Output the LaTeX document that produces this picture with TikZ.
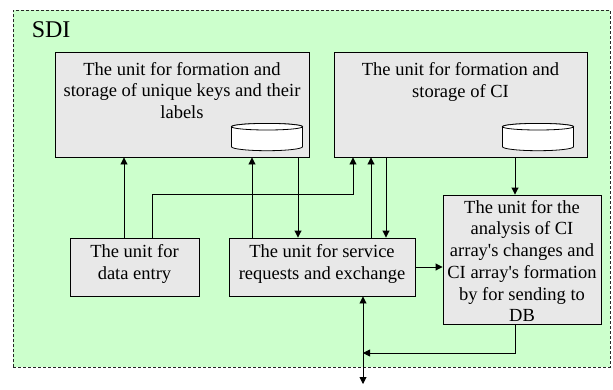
\documentclass[tikz,border=0pt]{standalone}
\usepackage{fontspec}
\setmainfont{Liberation Serif}
\newfontfamily\tnr{Liberation Serif}
\usetikzlibrary{arrows.meta,calc}
\definecolor{sdigreen}{RGB}{204,255,204}
\definecolor{boxgray}{RGB}{232,232,232}
\begin{document}
\begin{tikzpicture}[x=1pt,y=-1pt,
 unit/.style={draw=black, line width=0.9pt, fill=boxgray, rectangle, inner sep=0pt},
 txt/.style={font=\tnr\fontsize{18.5}{21.7}\selectfont, align=center, inner sep=0pt},
 arr/.style={line width=0.9pt, -{Triangle[length=7pt,width=7pt]}},
 dbl/.style={line width=0.9pt, {Triangle[length=7pt,width=7pt]}-{Triangle[length=7pt,width=7pt]}},
 db/.style={draw=black, line width=0.8pt, fill=white}]
\useasboundingbox (0,0) rectangle (613,389);
\node[draw=black!85, dash pattern=on 3pt off 2pt, line width=0.8pt, fill=sdigreen, minimum width=597pt, minimum height=357pt, inner sep=0pt] (frame) at (311.5,188.5) {};
\node[font=\tnr\fontsize{24}{28}\selectfont, anchor=base west, inner sep=0pt] (sdil) at ([xshift=19pt,yshift=-27.5pt]frame.north west) {SDI};

\node[unit, minimum width=254pt, minimum height=105pt] (k) at (182,104.5) {};
\node[unit, minimum width=253pt, minimum height=105pt] (c) at (460.5,104.5) {};
\node[unit, minimum width=129pt, minimum height=58pt] (de) at (134.5,267) {};
\node[unit, minimum width=186pt, minimum height=58pt] (sr) at (322,267) {};
\node[unit, minimum width=158pt, minimum height=129pt] (an) at (522,259.5) {};

\node[txt, anchor=north] (kt) at ([yshift=-10.5pt]k.north) {The unit for formation and\\storage of unique keys and their\\labels};
\node[txt, anchor=north] (ct) at ([yshift=-11pt]c.north) {The unit for formation and\\storage of CI};
\node[txt, anchor=north] (det) at ([yshift=-7pt]de.north) {The unit for\\data entry};
\node[txt, anchor=north] (srt) at ([yshift=-7pt]sr.north) {The unit for service\\requests and exchange};
\node[txt, anchor=north] (ant) at ([yshift=-5.5pt]an.north) {The unit for the\\analysis of CI\\array\textquotesingle s changes and\\CI array\textquotesingle s formation\\by for sending to\\DB};

% databases
\draw[db] (231.5,126.7) -- (231.5,146.7) arc[start angle=180,end angle=360,x radius=35.5pt,y radius=4pt] -- (302.5,126.7) arc[start angle=0,end angle=180,x radius=35.5pt,y radius=3.3pt] -- cycle;
\draw[db] (267,126.7) ellipse[x radius=35.5pt,y radius=3.3pt];
\draw[db] (502.5,126.7) -- (502.5,146.7) arc[start angle=180,end angle=360,x radius=35.5pt,y radius=4pt] -- (573.5,126.7) arc[start angle=0,end angle=180,x radius=35.5pt,y radius=3.3pt] -- cycle;
\draw[db] (538,126.7) ellipse[x radius=35.5pt,y radius=3.3pt];

% connectors
\coordinate (j1) at (353,194);
\coordinate (j2) at (363,353);
\coordinate (out) at (363,384);
\draw[arr] ([xshift=-10.5pt]de.north) -- ([xshift=-10.5pt]de.north |- k.south);
\draw[arr] ([xshift=17.5pt]de.north) |- (j1) -- (j1 |- c.south);
\draw[arr] ([xshift=-70pt]sr.north) -- ([xshift=-70pt]sr.north |- k.south);
\draw[arr] ([xshift=116pt]k.south) -- ([xshift=116pt]k.south |- sr.north);
\draw[arr] ([xshift=49pt]sr.north) -- ([xshift=49pt]sr.north |- c.south);
\draw[arr] ([xshift=-74.5pt]c.south) -- ([xshift=-74.5pt]c.south |- sr.north);
\draw[arr] ([xshift=54.5pt]c.south) -- ([xshift=54.5pt]c.south |- an.north);
\draw[arr] (sr.east) -- (sr.east -| an.west);
\draw[arr] ([xshift=-7pt]an.south) |- (j2);
\draw[dbl] ([xshift=41pt]sr.south) -- (out);
\end{tikzpicture}
\end{document}
